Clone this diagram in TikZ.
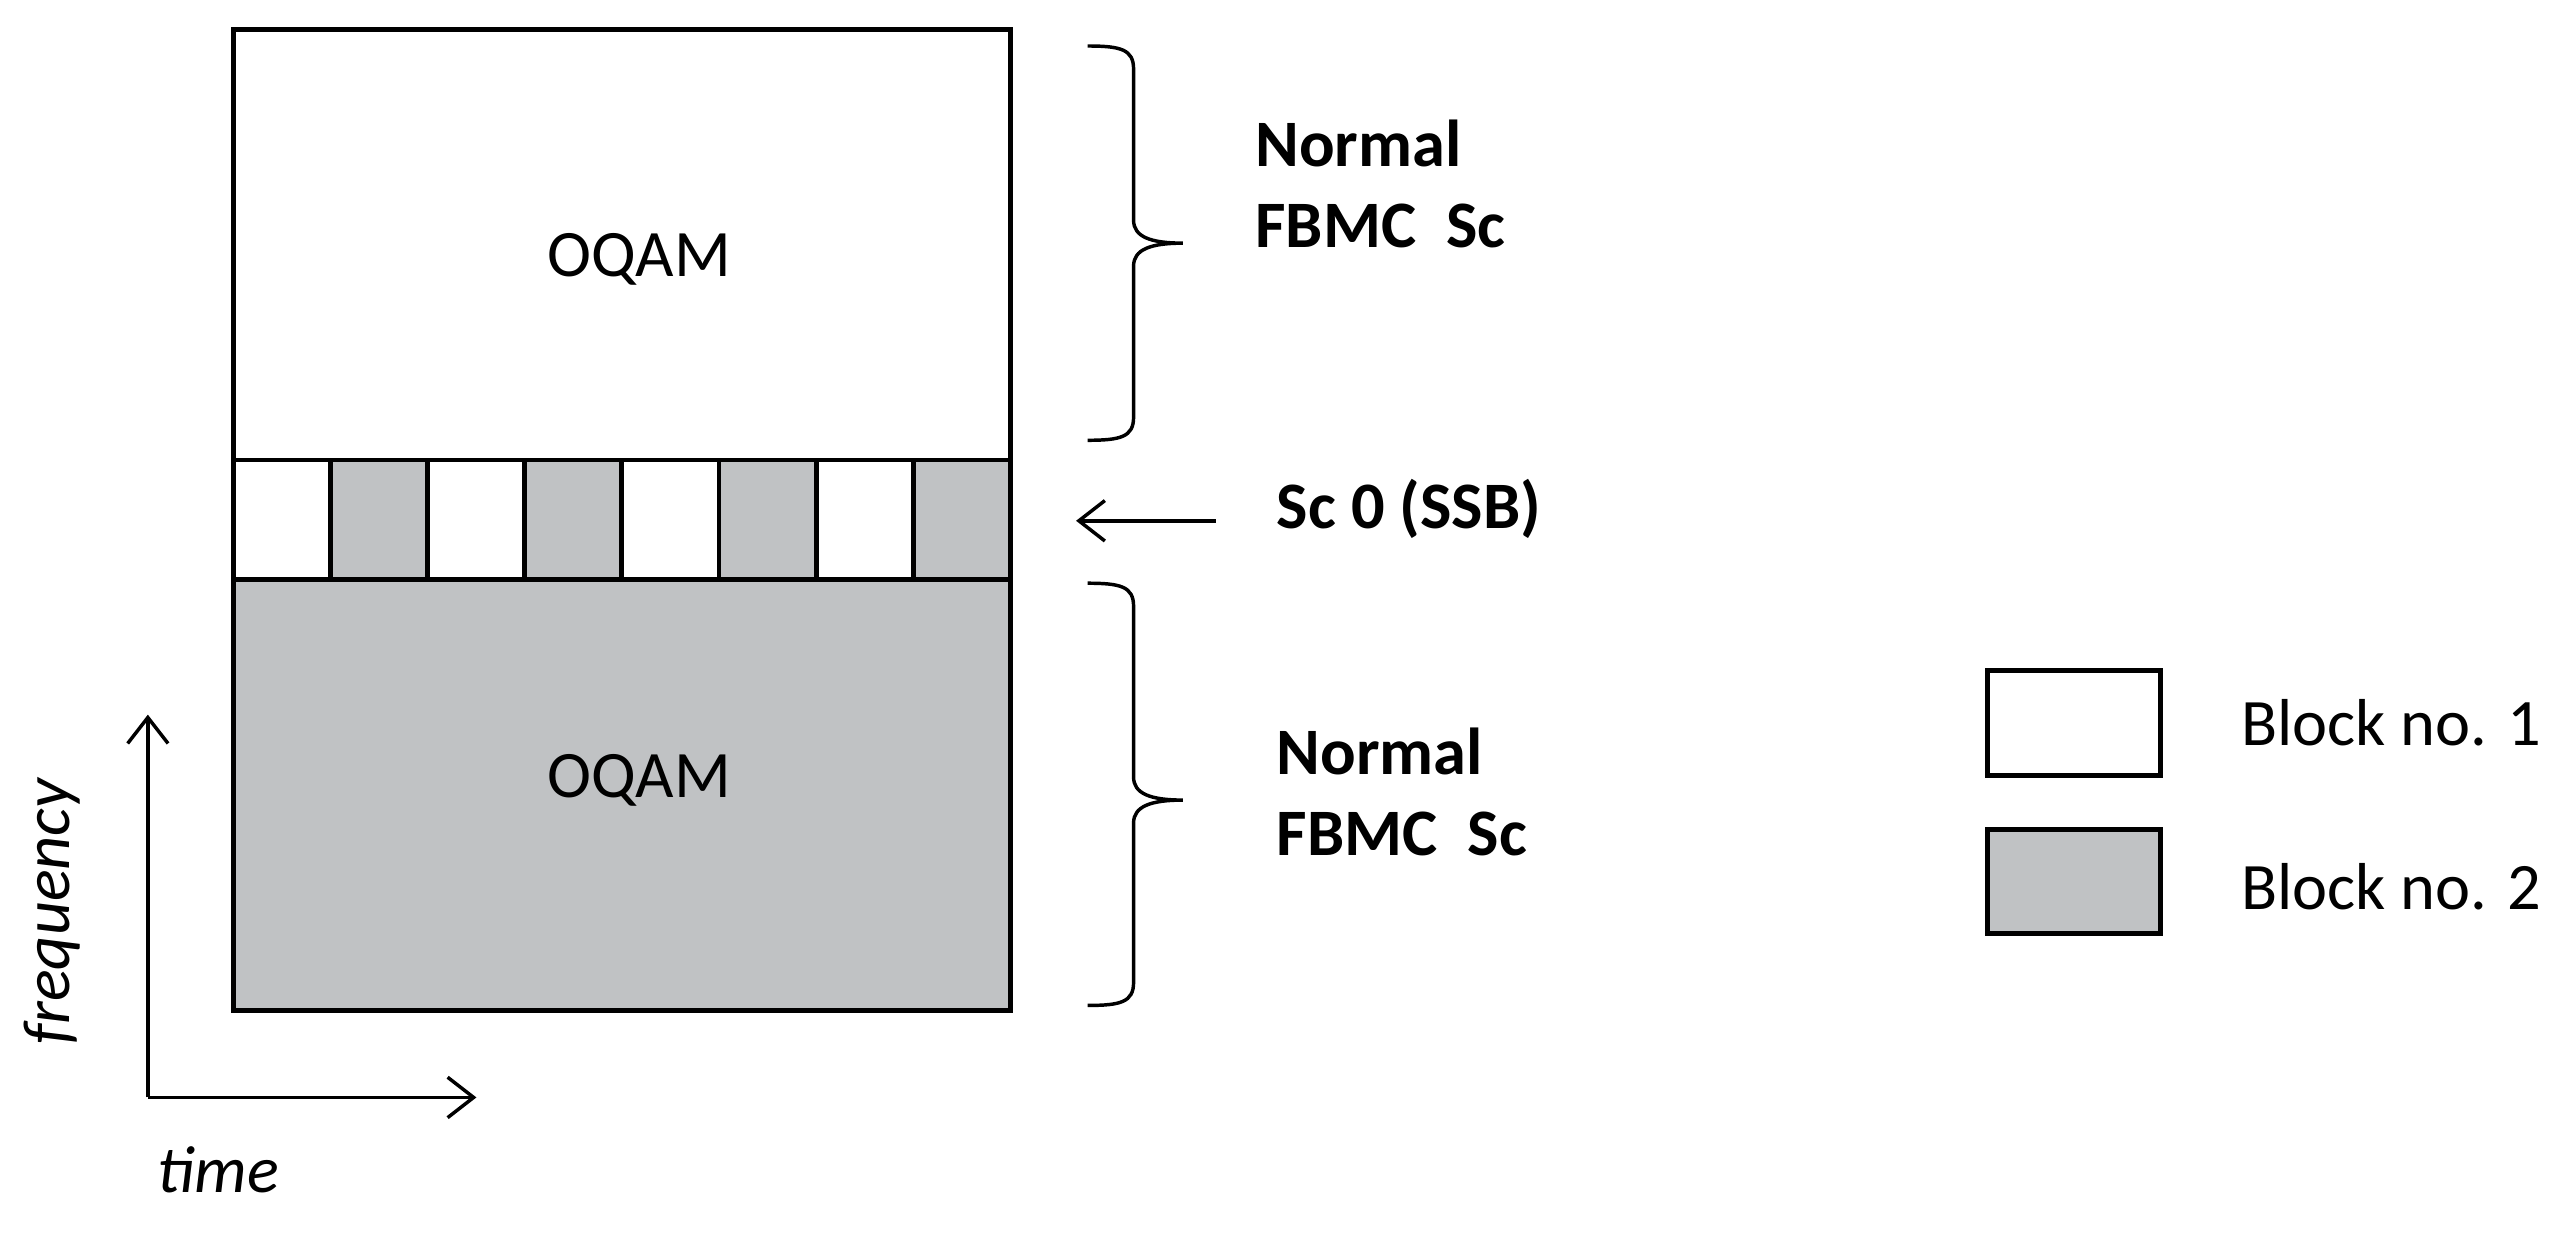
\documentclass[tikz,border=0pt]{standalone}
\usepackage{fontspec}
\setmainfont{Carlito}
\usetikzlibrary{arrows.meta}
\definecolor{blk}{RGB}{192,194,196}
\begin{document}
\begin{tikzpicture}[x=0.02cm,y=-0.02cm,
  box/.style={draw,line width=1.7pt},
  br/.style={draw,line width=1.2pt},
  lbl/.style={font=\fontsize{23}{28}\selectfont\bfseries,align=left,anchor=west},
  txt/.style={font=\fontsize{23}{28}\selectfont},
  arr/.style={line width=1.2pt,-{Straight Barb[length=9pt,width=14pt]}}]
\useasboundingbox (0,0) rectangle (1568,750);
\draw[box,fill=white] (142,18) rectangle (615,280);
\node[txt] (o1) at (389,158) {OQAM};
\foreach \i in {0,...,7}{
  \pgfmathsetmacro\xa{142+59.125*\i}
  \pgfmathsetmacro\xb{142+59.125*(\i+1)}
  \ifodd\i \def\fc{blk}\else\def\fc{white}\fi
  \draw[box,fill=\fc] (\xa,280) rectangle (\xb,353);
}
\draw[box,fill=blk] (142,353) rectangle (615,615);
\node[txt] (o2) at (389,475) {OQAM};
\draw[br] (662,28) .. controls (682,28) and (690,30) .. (690,42) -- (690,134) .. controls (690,144) and (700,148) .. (720,148) .. controls (700,148) and (690,152) .. (690,162) -- (690,254) .. controls (690,266) and (682,268) .. (662,268);
\draw[br] (662,355) .. controls (682,355) and (690,357) .. (690,369) -- (690,473) .. controls (690,483) and (700,487) .. (720,487) .. controls (700,487) and (690,491) .. (690,501) -- (690,598) .. controls (690,610) and (682,612) .. (662,612);
\node[lbl] (n1) at (758,112) {Normal\\FBMC\ \ Sc};
\node[lbl] (n2) at (771,482) {Normal\\FBMC\ \ Sc};
\node[lbl] (sc) at (771,310) {Sc 0 (SSB)};
\coordinate (a1) at (740,317);
\coordinate (a2) at (655,317);
\draw[arr] (a1) -- (a2);
\draw[box,fill=white] (1210,408) rectangle (1315,472);
\draw[box,fill=blk] (1210,505) rectangle (1315,568);
\node[txt,anchor=west] (b1) at (1358,440) {Block no. 1};
\node[txt,anchor=west] (b2) at (1358,540) {Block no. 2};
\coordinate (or) at (90,668);
\coordinate (up) at (90,435);
\coordinate (rt) at (290,668);
\draw[arr] (or) -- (up);
\draw[arr] (or) -- (rt);
\node[txt,rotate=90,font=\fontsize{23}{28}\selectfont\itshape] (fq) at (32,555) {frequency};
\node[txt,font=\fontsize{23}{28}\selectfont\itshape] (tm) at (133,712) {time};
\end{tikzpicture}
\end{document}
